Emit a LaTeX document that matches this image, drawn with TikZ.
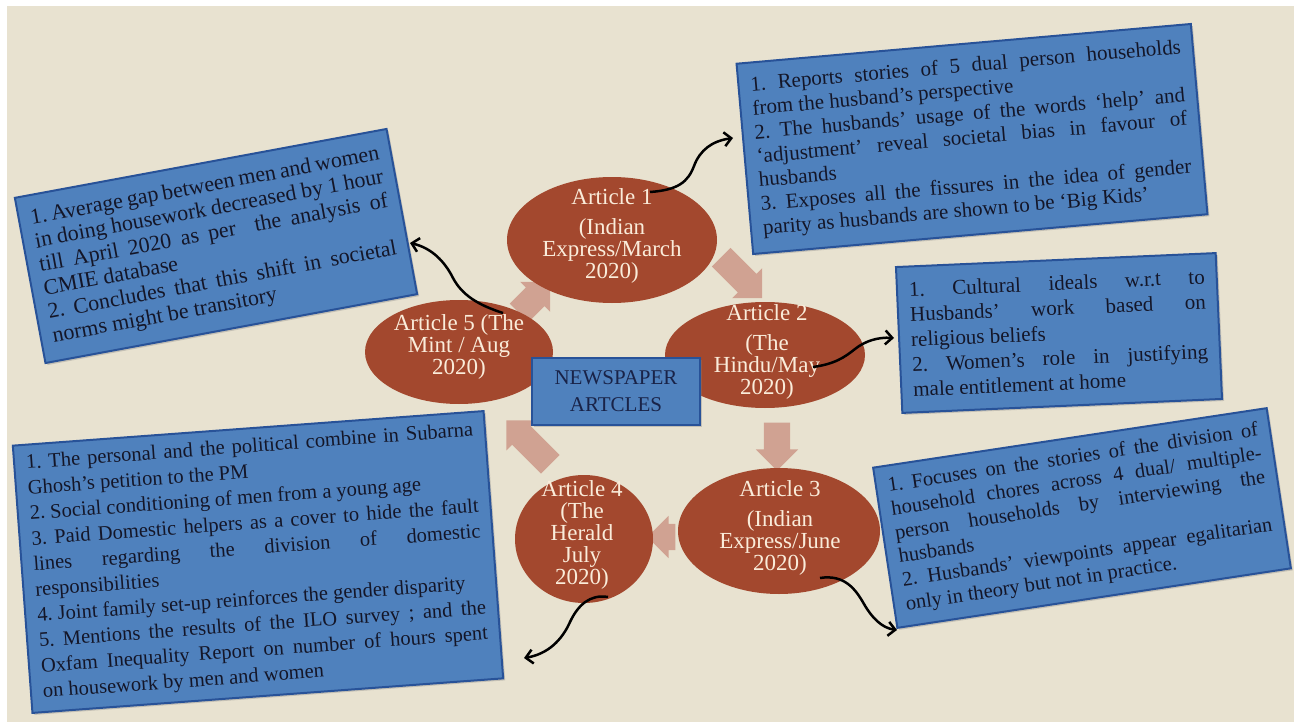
\documentclass[tikz,border=0pt]{standalone}
\usepackage{fontspec}
\setmainfont{Liberation Serif}
\frenchspacing
\usetikzlibrary{arrows.meta,shapes.geometric,shapes.arrows,shadows,calc}

\definecolor{linen}{RGB}{232,226,208}
\definecolor{boxblue}{RGB}{79,129,189}
\definecolor{boxedge}{RGB}{40,82,152}
\definecolor{boxink}{RGB}{20,22,40}
\definecolor{hubink}{RGB}{25,35,72}
\definecolor{artred}{RGB}{163,72,46}
\definecolor{artink}{RGB}{250,236,218}
\definecolor{flowred}{RGB}{185,100,85}

\tikzset{
  infobox/.style={draw=boxedge, line width=2pt, fill=boxblue, text=boxink,
    align=justify, inner xsep=12pt, inner ysep=8pt,
    font=\fontsize{21}{24}\selectfont,
    drop shadow={opacity=0.35, shadow xshift=2pt, shadow yshift=-2pt}},
  article/.style={ellipse, fill=artred, inner sep=0pt},
  arttext/.style={text=artink, align=center, font=\fontsize{23}{22}\selectfont},
  flowarrow/.style={single arrow, fill=flowred, fill opacity=0.5,
    inner xsep=0pt, inner ysep=13pt, single arrow head extend=8pt,
    single arrow tip angle=90},
  link/.style={->, line width=2.5pt, black}
}

\begin{document}
\begin{tikzpicture}[x=1pt, y=-1pt, >={Straight Barb[length=7pt,width=14pt]}]

% page and linen background
\useasboundingbox (0,0) rectangle (1302,725);
\fill[white] (0,0) rectangle (1302,725);
\fill[linen] (7,6) rectangle (1294,722);

% fat arrows running round the circle of articles
\node[flowarrow, minimum height=58pt, rotate=-45] (f12) at (737,273) {};
\node[flowarrow, minimum height=48pt, rotate=-90] (f23) at (777,440) {};
\node[flowarrow, minimum height=28pt, rotate=180] (f34) at (668,537) {};
\node[flowarrow, minimum height=62pt, rotate=135] (f45) at (533,447) {};
\node[flowarrow, minimum height=44pt, rotate=45] (f51) at (530,302) {};

% the five articles
\node[article, minimum width=210pt, minimum height=126pt] (art1) at (612,240) {};
\node[article, minimum width=200pt, minimum height=106pt] (art2) at (765,355) {};
\node[article, minimum width=202pt, minimum height=126pt] (art3) at (779,531) {};
\node[article, minimum width=138pt, minimum height=128pt] (art4) at (584,539) {};
\node[article, minimum width=188pt, minimum height=104pt] (art5) at (459,352) {};

\node[arttext] (art1t) at (612,236) {Article 1\\[8pt](Indian\\Express/March\\2020)};
\node[arttext] (art2t) at (767,352) {Article 2\\[8pt](The\\Hindu/May\\2020)};
\node[arttext] (art3t) at (780,528) {Article 3\\[8pt](Indian\\Express/June\\2020)};
\node[arttext] (art4t) at (582,535) {Article 4\\(The\\Herald\\July\\2020)};
\node[arttext] (art5t) at (459,347) {Article 5 (The\\Mint / Aug\\2020)};

% centre box
\node[infobox, align=center, minimum width=168pt, minimum height=67pt,
  text=hubink, font=\fontsize{21}{27}\selectfont] (hub) at (616,391) {NEWSPAPER\\ARTCLES};

% notes for each article
\node[infobox, text width=354pt, minimum height=168pt, rotate=10.5,
  font=\fontsize{22}{24}\selectfont] (note5) at (216,246)
  {1. Average gap between men and women\linebreak
   in doing housework decreased by 1 hour\linebreak
   till April 2020 as per \ the analysis of\linebreak
   CMIE database\\
   2. Concludes that this shift in societal\linebreak
   norms might be transitory};

\node[infobox, text width=432pt, minimum height=191pt, rotate=5] (note1) at (972,139)
  {1. Reports stories of 5 dual person households\linebreak
   from the husband's perspective\\
   2. The husbands' usage of the words `help' and\linebreak
   `adjustment' reveal societal bias in favour of\linebreak
   husbands\\
   3. Exposes all the fissures in the idea of gender\linebreak
   parity as husbands are shown to be `Big Kids'};

\node[infobox, text width=296pt, minimum height=146pt, rotate=2.5,
  font=\fontsize{21}{25}\selectfont] (note2) at (1059,333)
  {1. Cultural ideals w.r.t to\linebreak
   Husbands' work based on\linebreak
   religious beliefs\\
   2. Women's role in justifying\linebreak
   male entitlement at home};

\node[infobox, text width=374pt, minimum height=162pt, rotate=8.6,
  font=\fontsize{20.5}{24}\selectfont] (note3) at (1082,518)
  {1. Focuses on the stories of the division of\linebreak
   household chores across 4 dual/ multiple-\linebreak
   person households by interviewing the\linebreak
   husbands\\
   2. Husbands' viewpoints appear egalitarian\linebreak
   only in theory but not in practice.};

\node[infobox, text width=448pt, minimum height=268pt, rotate=4.2,
  font=\fontsize{20.5}{25.5}\selectfont] (note4) at (258,562)
  {1. The personal and the political combine in Subarna\linebreak
   Ghosh's petition to the PM\\
   2. Social conditioning of men from a young age\\
   3. Paid Domestic helpers as a cover to hide the fault\linebreak
   lines regarding the division of domestic\linebreak
   responsibilities\\
   4. Joint family set-up reinforces the gender disparity\\
   5. Mentions the results of the ILO survey ; and the\linebreak
   Oxfam Inequality Report on number of hours spent\linebreak
   on housework by men and women};

% wavy links from each article to its note
\coordinate (tip1) at (733,138);
\coordinate (tip2) at (894,338);
\coordinate (tip3) at (897,630);
\coordinate (tip4) at (524,658);
\coordinate (tip5) at (410,243);

\draw[link] ($(art1.center)+(38,-48)$) .. controls (678,190) and (688,182) .. (694,166)
  .. controls (700,150) and (712,141) .. (tip1);
\draw[link] ($(art2.center)+(48,12)$) .. controls (835,364) and (845,357) .. (855,349)
  .. controls (865,341) and (878,337) .. (tip2);
\draw[link] ($(art3.center)+(41,47)$) .. controls (845,574) and (856,590) .. (864,604)
  .. controls (872,618) and (882,628) .. (tip3);
\draw[link] ($(art4.center)+(24,58)$) .. controls (590,594) and (578,605) .. (570,622)
  .. controls (562,640) and (548,654) .. (tip4);
\draw[link] ($(art5.center)+(44,-39)$) .. controls (478,305) and (462,295) .. (453,278)
  .. controls (445,262) and (432,248) .. (tip5);

\end{tikzpicture}
\end{document}
